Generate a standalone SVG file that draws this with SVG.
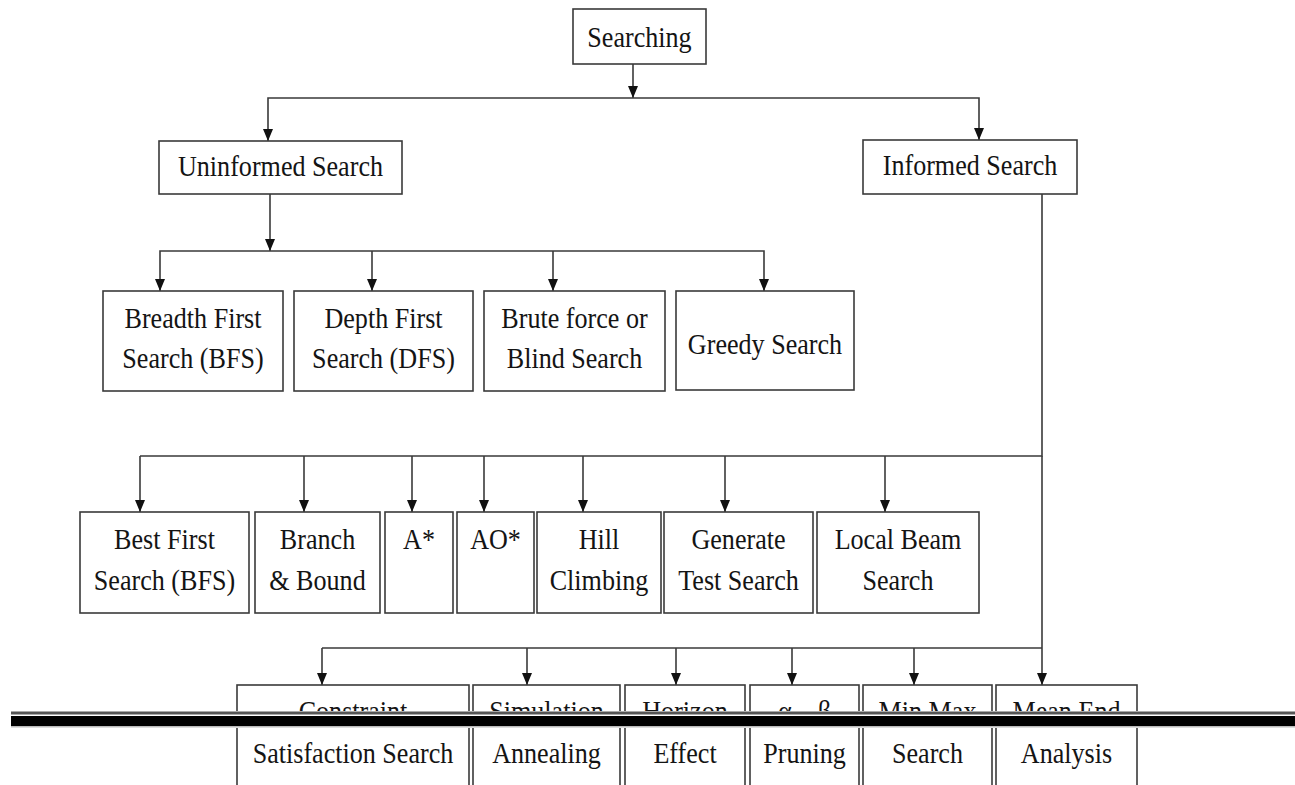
<svg xmlns="http://www.w3.org/2000/svg" width="1295" height="785" viewBox="0 0 1295 785">
  <style>
    .box { fill: #ffffff; stroke: #3a3a3a; stroke-width: 1.6; }
    .lbl { font-family: "Liberation Serif", "Times New Roman", serif; font-size: 29px; fill: #141414; text-anchor: middle;
           transform-box: fill-box; transform-origin: center; transform: scaleX(0.9); }
    .wire { fill: none; stroke: #3a3a3a; stroke-width: 1.6; }
    .arr { marker-end: url(#head); }
  </style>
  <defs>
    <marker id="head" viewBox="0 0 12 10" refX="12" refY="5" markerWidth="12" markerHeight="10" markerUnits="userSpaceOnUse" orient="auto">
      <path d="M0,0 L12,5 L0,10 z" fill="#111"/>
    </marker>
  </defs>
  <rect width="1295" height="785" fill="#ffffff"/>

  <!-- connectors -->
  <g id="connectors">
    <!-- root to level 1 -->
    <line class="wire arr" x1="633" y1="64" x2="633" y2="98"/>
    <polyline class="wire arr" points="633,98 268,98 268,141"/>
    <polyline class="wire arr" points="633,98 979,98 979,140"/>
    <!-- uninformed branch -->
    <line class="wire arr" x1="270" y1="194" x2="270" y2="251"/>
    <polyline class="wire arr" points="270,251 160,251 160,291"/>
    <line class="wire arr" x1="372" y1="251" x2="372" y2="291"/>
    <line class="wire arr" x1="553" y1="251" x2="553" y2="291"/>
    <polyline class="wire arr" points="270,251 764,251 764,291"/>
    <!-- informed branch -->
    <polyline class="wire" points="1042,194 1042,456 140,456"/>
    <line class="wire arr" x1="140" y1="456" x2="140" y2="512"/>
    <line class="wire arr" x1="304" y1="456" x2="304" y2="512"/>
    <line class="wire arr" x1="412" y1="456" x2="412" y2="512"/>
    <line class="wire arr" x1="484" y1="456" x2="484" y2="512"/>
    <line class="wire arr" x1="583" y1="456" x2="583" y2="512"/>
    <line class="wire arr" x1="725" y1="456" x2="725" y2="512"/>
    <line class="wire arr" x1="885" y1="456" x2="885" y2="512"/>
    <line class="wire arr" x1="1042" y1="456" x2="1042" y2="685"/>
    <polyline class="wire" points="1042,648 322,648"/>
    <line class="wire arr" x1="322" y1="648" x2="322" y2="685"/>
    <line class="wire arr" x1="527" y1="648" x2="527" y2="685"/>
    <line class="wire arr" x1="676" y1="648" x2="676" y2="685"/>
    <line class="wire arr" x1="792" y1="648" x2="792" y2="685"/>
    <line class="wire arr" x1="914" y1="648" x2="914" y2="685"/>
  </g>

  <!-- root -->
  <g id="searching">
    <rect class="box" x="573" y="9" width="133" height="55"/>
    <text class="lbl" x="639.5" y="47">Searching</text>
  </g>

  <!-- level 1 -->
  <g id="uninformed">
    <rect class="box" x="159" y="141" width="243" height="53"/>
    <text class="lbl" x="280.5" y="176">Uninformed Search</text>
  </g>
  <g id="informed">
    <rect class="box" x="863" y="140" width="214" height="54"/>
    <text class="lbl" x="970" y="175">Informed Search</text>
  </g>

  <!-- uninformed strategies -->
  <g id="bfs">
    <rect class="box" x="103" y="291" width="180" height="100"/>
    <text class="lbl" x="193" y="328">Breadth First</text>
    <text class="lbl" x="193" y="368">Search (BFS)</text>
  </g>
  <g id="dfs">
    <rect class="box" x="294" y="291" width="179" height="100"/>
    <text class="lbl" x="383.5" y="328">Depth First</text>
    <text class="lbl" x="383.5" y="368">Search (DFS)</text>
  </g>
  <g id="brute">
    <rect class="box" x="484" y="291" width="181" height="100"/>
    <text class="lbl" x="574.5" y="328">Brute force or</text>
    <text class="lbl" x="574.5" y="368">Blind Search</text>
  </g>
  <g id="greedy">
    <rect class="box" x="676" y="291" width="178" height="99"/>
    <text class="lbl" x="765" y="354">Greedy Search</text>
  </g>

  <!-- informed strategies -->
  <g id="best-first">
    <rect class="box" x="80" y="512" width="169" height="101"/>
    <text class="lbl" x="164.5" y="549">Best First</text>
    <text class="lbl" x="164.5" y="590">Search (BFS)</text>
  </g>
  <g id="branch-bound">
    <rect class="box" x="255" y="512" width="125" height="101"/>
    <text class="lbl" x="317.5" y="549">Branch</text>
    <text class="lbl" x="317.5" y="590">&amp; Bound</text>
  </g>
  <g id="a-star">
    <rect class="box" x="385" y="512" width="68" height="101"/>
    <text class="lbl" x="419" y="549">A*</text>
  </g>
  <g id="ao-star">
    <rect class="box" x="457" y="512" width="77" height="101"/>
    <text class="lbl" x="495.5" y="549">AO*</text>
  </g>
  <g id="hill">
    <rect class="box" x="537" y="512" width="124" height="101"/>
    <text class="lbl" x="599" y="549">Hill</text>
    <text class="lbl" x="599" y="590">Climbing</text>
  </g>
  <g id="generate-test">
    <rect class="box" x="664" y="512" width="149" height="101"/>
    <text class="lbl" x="738.5" y="549">Generate</text>
    <text class="lbl" x="738.5" y="590">Test Search</text>
  </g>
  <g id="local-beam">
    <rect class="box" x="817" y="512" width="162" height="101"/>
    <text class="lbl" x="898" y="549">Local Beam</text>
    <text class="lbl" x="898" y="590">Search</text>
  </g>

  <!-- bottom row, running past the lower edge -->
  <g id="csp">
    <rect class="box" x="237" y="685" width="232" height="110"/>
    <text class="lbl" x="353" y="721">Constraint</text>
    <text class="lbl" x="353" y="763">Satisfaction Search</text>
  </g>
  <g id="annealing">
    <rect class="box" x="473" y="685" width="147" height="110"/>
    <text class="lbl" x="546.5" y="721">Simulation</text>
    <text class="lbl" x="546.5" y="763">Annealing</text>
  </g>
  <g id="horizon">
    <rect class="box" x="625" y="685" width="120" height="110"/>
    <text class="lbl" x="685" y="721">Horizon</text>
    <text class="lbl" x="685" y="763">Effect</text>
  </g>
  <g id="alpha-beta">
    <rect class="box" x="750" y="685" width="109" height="110"/>
    <text class="lbl" x="804.5" y="721">α – β</text>
    <text class="lbl" x="804.5" y="763">Pruning</text>
  </g>
  <g id="minmax">
    <rect class="box" x="863" y="685" width="129" height="110"/>
    <text class="lbl" x="927.5" y="721">Min Max</text>
    <text class="lbl" x="927.5" y="763">Search</text>
  </g>
  <g id="mean-end">
    <rect class="box" x="996" y="685" width="141" height="110"/>
    <text class="lbl" x="1066.5" y="721">Mean End</text>
    <text class="lbl" x="1066.5" y="763">Analysis</text>
  </g>

  <!-- heavy rule across the lower row -->
  <g id="rule">
    <rect x="11" y="711" width="1284" height="17" fill="#ffffff"/>
    <rect x="11" y="711.5" width="1284" height="3" fill="#555555"/>
    <rect x="11" y="716" width="1284" height="10" fill="#000000"/>
    <rect x="11" y="726" width="1284" height="1.5" fill="#bbbbbb"/>
  </g>
</svg>
